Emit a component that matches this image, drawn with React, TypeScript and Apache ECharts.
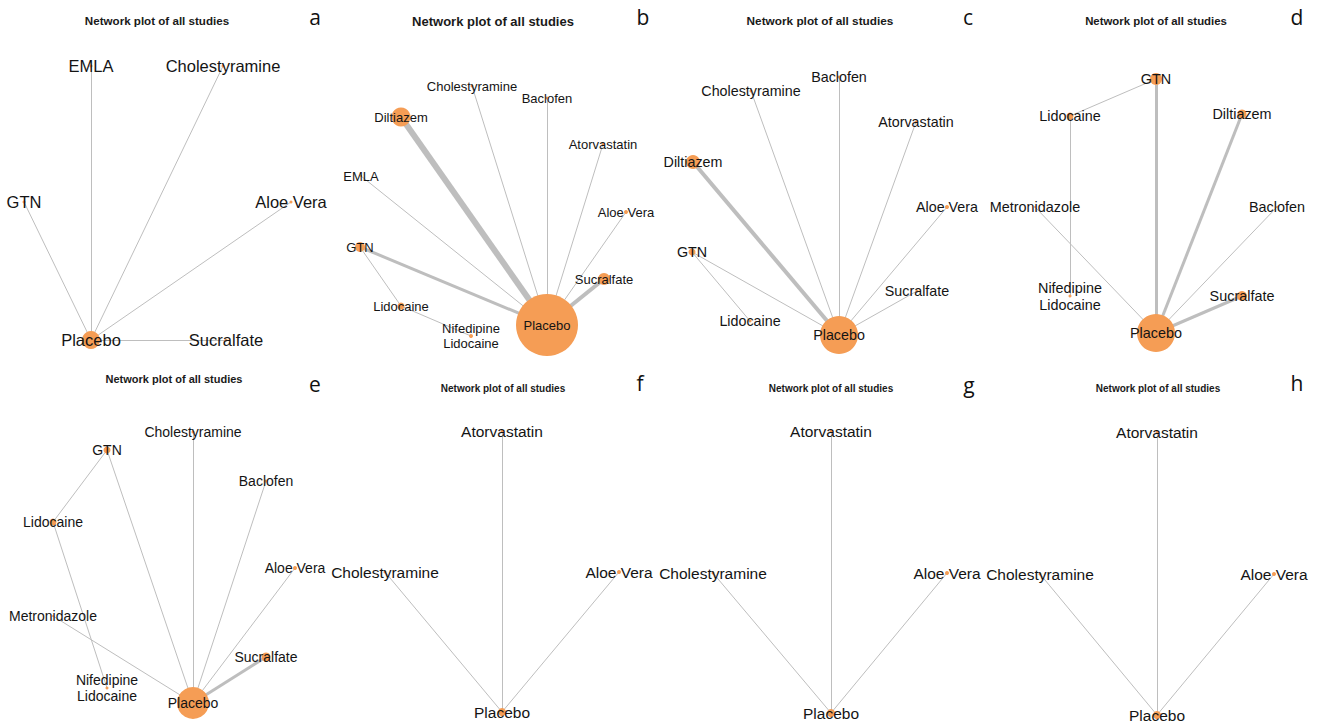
import React, { useEffect, useRef } from "react";
import * as echarts from "echarts";

// ---------- DATA (layout coordinates in panel units, node weight, studies per comparison) ----------
type Edge = [string, string, number];

const aNodes = ["Placebo", "EMLA", "Cholestyramine", "GTN", "Aloe Vera", "Sucralfate"];
const aX = [91, 91, 223, 24, 291, 226];
const aY = [340, 66, 66, 202, 202, 340];
const aWeight = [18, 3, 3, 3, 3, 3];
const aEdges: Edge[] = [
  ["Placebo", "EMLA", 1],
  ["Placebo", "Cholestyramine", 1],
  ["Placebo", "GTN", 1],
  ["Placebo", "Aloe Vera", 1],
  ["Placebo", "Sucralfate", 1],
];

const bNodes = ["Placebo", "Diltiazem", "Cholestyramine", "Baclofen", "Atorvastatin", "EMLA", "Aloe Vera", "GTN", "Sucralfate", "Lidocaine", "Nifedipine\nLidocaine"];
const bX = [217, 71, 142, 217, 273, 31, 296, 30, 274, 71, 141];
const bY = [325, 117, 86, 98, 144, 176, 212, 247, 279, 306, 336];
const bWeight = [62, 19, 3, 3, 3, 2, 4, 10, 12, 7, 4];
const bEdges: Edge[] = [
  ["Placebo", "Diltiazem", 6],
  ["Placebo", "Cholestyramine", 1],
  ["Placebo", "Baclofen", 1],
  ["Placebo", "Atorvastatin", 1],
  ["Placebo", "EMLA", 1],
  ["Placebo", "Aloe Vera", 1],
  ["Placebo", "GTN", 3],
  ["Placebo", "Sucralfate", 4],
  ["GTN", "Lidocaine", 1],
  ["Lidocaine", "Nifedipine\nLidocaine", 1],
];

const cNodes = ["Placebo", "Baclofen", "Cholestyramine", "Atorvastatin", "Diltiazem", "Aloe Vera", "GTN", "Sucralfate", "Lidocaine"];
const cX = [179, 179, 91, 256, 33, 287, 32, 257, 90];
const cY = [335, 77, 91, 122, 162, 207, 252, 291, 321];
const cWeight = [38, 3, 3, 3, 14, 4, 7, 3, 3];
const cEdges: Edge[] = [
  ["Placebo", "Baclofen", 1],
  ["Placebo", "Cholestyramine", 1],
  ["Placebo", "Atorvastatin", 1],
  ["Placebo", "Diltiazem", 4],
  ["Placebo", "Aloe Vera", 1],
  ["Placebo", "GTN", 1],
  ["Placebo", "Sucralfate", 1],
  ["GTN", "Lidocaine", 1],
];

const dNodes = ["Placebo", "GTN", "Lidocaine", "Diltiazem", "Metronidazole", "Baclofen", "Nifedipine\nLidocaine", "Sucralfate"];
const dX = [166, 166, 80, 252, 45, 287, 80, 252];
const dY = [333, 79, 116, 114, 207, 207, 296, 296];
const dWeight = [38, 12, 7, 9, 2, 2, 3, 10];
const dEdges: Edge[] = [
  ["Placebo", "GTN", 3],
  ["Placebo", "Diltiazem", 3],
  ["Placebo", "Metronidazole", 1],
  ["Placebo", "Baclofen", 1],
  ["Placebo", "Sucralfate", 3],
  ["GTN", "Lidocaine", 1],
  ["Lidocaine", "Nifedipine\nLidocaine", 1],
];

const eNodes = ["Placebo", "Cholestyramine", "GTN", "Baclofen", "Lidocaine", "Aloe Vera", "Metronidazole", "Sucralfate", "Nifedipine\nLidocaine"];
const eX = [193, 193, 107, 266, 53, 295, 53, 266, 107];
const eY = [338, 67, 85, 116, 157, 203, 251, 292, 323];
const eWeight = [32, 3, 7, 3, 7, 4, 2, 9, 3];
const eEdges: Edge[] = [
  ["Placebo", "Cholestyramine", 1],
  ["Placebo", "GTN", 1],
  ["Placebo", "Baclofen", 1],
  ["Placebo", "Aloe Vera", 1],
  ["Placebo", "Metronidazole", 1],
  ["Placebo", "Sucralfate", 3],
  ["GTN", "Lidocaine", 1],
  ["Lidocaine", "Nifedipine\nLidocaine", 1],
];

const fghNodes = ["Atorvastatin", "Cholestyramine", "Aloe Vera", "Placebo"];
const fX = [172, 55, 289, 172];
const fY = [66, 207, 207, 347];
const gX = [171, 53, 287, 171];
const gY = [66, 208, 208, 348];
const hX = [167, 50, 284, 167];
const hY = [67, 209, 209, 350];
const fghWeight = [3, 3, 4, 8];
const fghEdges: Edge[] = [
  ["Placebo", "Atorvastatin", 1],
  ["Placebo", "Cholestyramine", 1],
  ["Placebo", "Aloe Vera", 1],
];

const panelTitle = "Network plot of all studies";
const panelLetters = ["a", "b", "c", "d", "e", "f", "g", "h"];

// ---------- LAYOUT / STYLE ----------
const NODE_COLOR = "#F59D55";
const EDGE_COLOR = "#BEBEBE";
const SANS = "'Liberation Sans', Arial, Helvetica, sans-serif";

const PW = 330;
const PH = 363;

interface PanelDef {
  nodes: string[];
  xs: number[];
  ys: number[];
  w: number[];
  edges: Edge[];
  col: number;
  row: number;
  labelSize: number;
  titleSize: number;
  titleX: number;
  titleY: number;
  letterX: number;
  letterY: number;
}

const panels: PanelDef[] = [
  { nodes: aNodes, xs: aX, ys: aY, w: aWeight, edges: aEdges, col: 0, row: 0, labelSize: 16.5, titleSize: 11.6, titleX: 157, titleY: 20, letterX: 315, letterY: 17 },
  { nodes: bNodes, xs: bX, ys: bY, w: bWeight, edges: bEdges, col: 1, row: 0, labelSize: 13, titleSize: 13, titleX: 163, titleY: 21, letterX: 313, letterY: 17 },
  { nodes: cNodes, xs: cX, ys: cY, w: cWeight, edges: cEdges, col: 2, row: 0, labelSize: 14.3, titleSize: 11.8, titleX: 160, titleY: 21, letterX: 308, letterY: 17 },
  { nodes: dNodes, xs: dX, ys: dY, w: dWeight, edges: dEdges, col: 3, row: 0, labelSize: 14.4, titleSize: 11.4, titleX: 166, titleY: 21, letterX: 307, letterY: 17 },
  { nodes: eNodes, xs: eX, ys: eY, w: eWeight, edges: eEdges, col: 0, row: 1, labelSize: 14, titleSize: 11, titleX: 174, titleY: 14, letterX: 315, letterY: 19 },
  { nodes: fghNodes, xs: fX, ys: fY, w: fghWeight, edges: fghEdges, col: 1, row: 1, labelSize: 15.5, titleSize: 10, titleX: 173, titleY: 23, letterX: 310, letterY: 18 },
  { nodes: fghNodes, xs: gX, ys: gY, w: fghWeight, edges: fghEdges, col: 2, row: 1, labelSize: 15.5, titleSize: 10, titleX: 171, titleY: 23, letterX: 309, letterY: 20 },
  { nodes: fghNodes, xs: hX, ys: hY, w: fghWeight, edges: fghEdges, col: 3, row: 1, labelSize: 15.5, titleSize: 10, titleX: 168, titleY: 23, letterX: 307, letterY: 18 },
];

const ROW_TOP = [0, 365];

function buildOption() {
  const grid: any[] = [];
  const xAxis: any[] = [];
  const yAxis: any[] = [];
  const series: any[] = [];
  const graphic: any[] = [];

  panels.forEach((p, i) => {
    const left = p.col * PW;
    const top = ROW_TOP[p.row];
    grid.push({ left, top, width: PW, height: PH, containLabel: false });
    xAxis.push({ type: "value", gridIndex: i, min: 0, max: PW, show: false });
    yAxis.push({ type: "value", gridIndex: i, min: 0, max: PH, inverse: true, show: false });

    series.push({
      type: "graph",
      coordinateSystem: "cartesian2d",
      xAxisIndex: i,
      yAxisIndex: i,
      symbol: "circle",
      silent: true,
      itemStyle: { color: NODE_COLOR, borderWidth: 0 },
      label: {
        show: true,
        position: "inside",
        color: "#141414",
        fontSize: p.labelSize,
        fontFamily: SANS,
        lineHeight: Math.round(p.labelSize * 1.15),
      },
      lineStyle: { color: EDGE_COLOR, opacity: 1, width: 1, curveness: 0 },
      emphasis: { disabled: true },
      data: p.nodes.map((n, k) => ({
        name: n,
        value: [p.xs[k], p.ys[k]],
        symbolSize: p.w[k],
      })),
      links: p.edges.map(([s, t, n]) => ({
        source: s,
        target: t,
        lineStyle: { width: n },
      })),
    });

    graphic.push({
      type: "text",
      x: left + p.titleX,
      y: top + p.titleY,
      style: {
        text: panelTitle,
        fontSize: p.titleSize,
        fontWeight: "bold",
        fontFamily: SANS,
        fill: "#1a1a1a",
        align: "center",
        verticalAlign: "middle",
      },
    });
    graphic.push({
      type: "text",
      x: left + p.letterX,
      y: top + p.letterY,
      style: {
        text: panelLetters[i],
        fontSize: 21,
        fontFamily: "'Open Sans', 'Liberation Sans', sans-serif",
        fill: "#111",
        align: "center",
        verticalAlign: "middle",
      },
    });
  });

  return {
    animation: false,
    backgroundColor: "#ffffff",
    grid,
    xAxis,
    yAxis,
    series,
    graphic,
  };
}

export default function App() {
  const ref = useRef<HTMLDivElement>(null);
  useEffect(() => {
    if (!ref.current) return;
    const chart = echarts.init(ref.current, undefined, { renderer: "svg" });
    chart.setOption(buildOption() as any);
    return () => chart.dispose();
  }, []);
  return (
    <div
      ref={ref}
      style={{ position: "fixed", left: 0, top: 0, width: 1320, height: 728, background: "#fff" }}
    />
  );
}
